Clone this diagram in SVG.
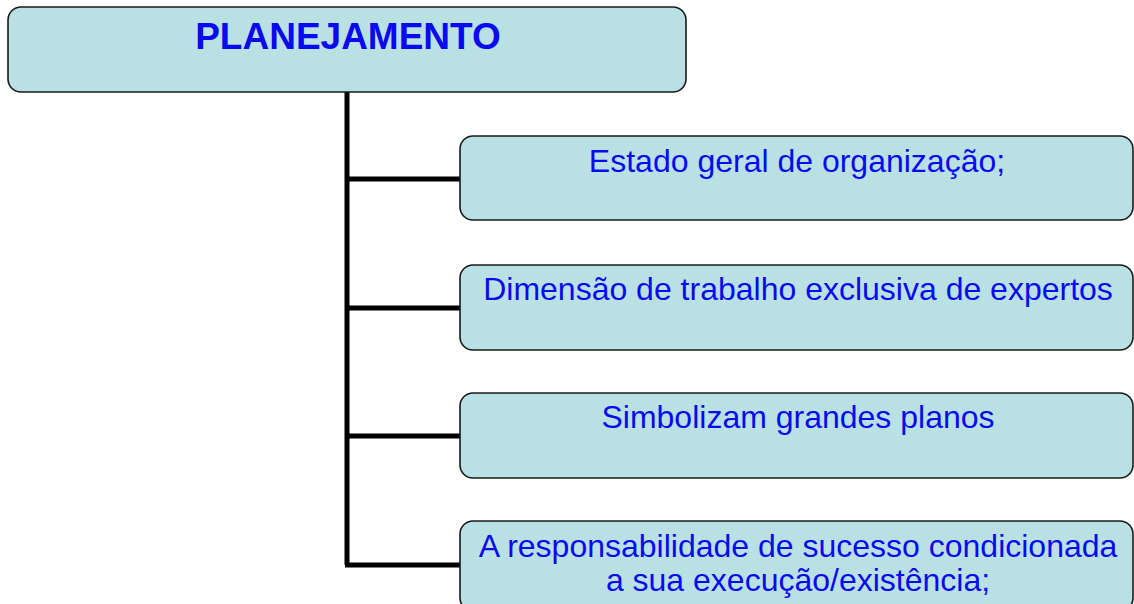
<svg xmlns="http://www.w3.org/2000/svg" width="1134" height="604" viewBox="0 0 1134 604">
<style>
.box{fill:#b9e0e3;stroke:#1a1a1a;stroke-width:1.6}
.t{font-family:"Liberation Sans",Arial,sans-serif;font-size:32px;fill:#0a0aee;text-anchor:middle}
.h{font-family:"Liberation Sans",Arial,sans-serif;font-size:37px;font-weight:bold;fill:#0a0aee;text-anchor:middle}
.c{fill:none;stroke:#000;stroke-width:5}
</style>
<rect width="1134" height="604" fill="#fff"/>
<g id="connectors">
<path class="c" d="M347 92 V565 M347 179 H461 M347 308 H461 M347 436 H461 M345 565 H461"/>
</g>
<g id="root">
<rect class="box" x="8" y="7" width="678" height="85" rx="13"/>
<text class="h" x="348" y="49">PLANEJAMENTO</text>
</g>
<g id="n1">
<rect class="box" x="460" y="136" width="673" height="84" rx="13"/>
<text class="t" x="797" y="172">Estado geral de organização;</text>
</g>
<g id="n2">
<rect class="box" x="460" y="265" width="673" height="85" rx="13"/>
<text class="t" x="798" y="300">Dimensão de trabalho exclusiva de expertos</text>
</g>
<g id="n3">
<rect class="box" x="460" y="393" width="673" height="85" rx="13"/>
<text class="t" x="798" y="428">Simbolizam grandes planos</text>
</g>
<g id="n4">
<rect class="box" x="460" y="521" width="673" height="90" rx="13"/>
<text class="t" x="798" y="557">A responsabilidade de sucesso condicionada</text>
<text class="t" x="798" y="591">a sua execução/existência;</text>
</g>
</svg>
